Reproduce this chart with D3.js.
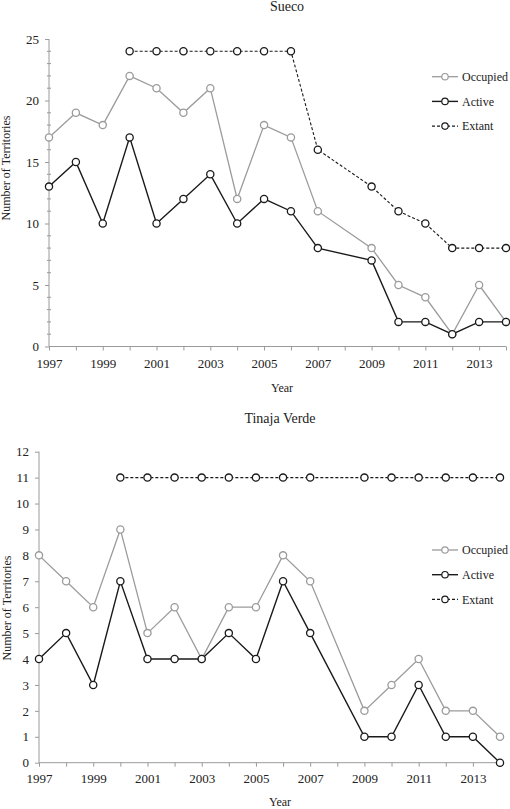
<!DOCTYPE html>
<html>
<head>
<meta charset="utf-8">
<script src="https://cdn.jsdelivr.net/npm/d3@7"></script>
<style>
  html, body { margin: 0; padding: 0; background: #fff; }
  svg { display: block; }
  text { font-family: "Liberation Serif", "Times New Roman", Times, serif; fill: #222; }
</style>
</head>
<body>
<svg id="chart" width="510" height="809"></svg>
<script>
// ---- Data ----
const years = [1997,1998,1999,2000,2001,2002,2003,2004,2005,2006,2007,2008,2009,2010,2011,2012,2013,2014];

const suecoOccupied = [17,19,18,22,21,19,21,12,18,17,11,null,8,5,4,1,5,2];
const suecoActive   = [13,15,10,17,10,12,14,10,12,11,8,null,7,2,2,1,2,2];
const suecoExtant   = [null,null,null,24,24,24,24,24,24,24,16,null,13,11,10,8,8,8];

const tinajaOccupied = [8,7,6,9,5,6,4,6,6,8,7,null,2,3,4,2,2,1];
const tinajaActive   = [4,5,3,7,4,4,4,5,4,7,5,null,1,1,3,1,1,0];
const tinajaExtant   = [null,null,null,11,11,11,11,11,11,11,11,null,11,11,11,11,11,11];

const xTickLabels = [1997,1999,2001,2003,2005,2007,2009,2011,2013];
const suecoYTicks = [0,5,10,15,20,25];
const tinajaYTicks = [0,1,2,3,4,5,6,7,8,9,10,11,12];
const legendLabels = ["Occupied","Active","Extant"];

const svg = d3.select("#chart");
const axisColor = "#9a9a9a";
const fontFam = '"Liberation Serif", "Times New Roman", Times, serif';
const styles = {
  Occupied: {color: "#9b9b9b", width: 1.3, dash: null},
  Active:   {color: "#1a1a1a", width: 1.4, dash: null},
  Extant:   {color: "#1a1a1a", width: 1.1, dash: "3,2"}
};

function drawPanel(cfg) {
  const g = svg.append("g");
  const x = d3.scaleLinear().domain([1997, 2014]).range([cfg.x0, cfg.x1]);
  const y = d3.scaleLinear().domain([0, cfg.yMax]).range([cfg.y0, cfg.y1]);

  // title
  g.append("text").attr("x", cfg.titleX).attr("y", cfg.titleY)
    .attr("text-anchor", "middle").style("font-size", "14px").text(cfg.title);

  // y axis
  const yAxis = d3.axisLeft(y).tickValues(cfg.yTicks).tickSize(4).tickPadding(6).tickFormat(d3.format("d"));
  const ya = g.append("g").attr("transform", `translate(${cfg.x0},0)`).call(yAxis);
  if (cfg.minor) {
    const minor = d3.range(0, cfg.yMax + 1).filter(v => !cfg.yTicks.includes(v));
    ya.selectAll("line.minor").data(minor).enter().append("line").attr("class", "minor")
      .attr("x1", -2).attr("x2", 2).attr("y1", d => y(d)).attr("y2", d => y(d));
  }
  ya.select(".domain").attr("d", `M0,${cfg.y0}V${cfg.y1}`);

  // x axis
  const xAxis = d3.axisBottom(x).tickValues(years).tickSize(4).tickPadding(cfg.xPad)
    .tickFormat(d => xTickLabels.includes(d) ? d : "");
  const xa = g.append("g").attr("transform", `translate(0,${cfg.y0})`).call(xAxis);
  xa.select(".domain").attr("d", `M${cfg.x0},0H${cfg.x1}`);

  [ya, xa].forEach(a => {
    a.attr("font-family", fontFam);
    a.selectAll("line, path").attr("stroke", axisColor).attr("stroke-width", 1);
    a.selectAll("text").style("font-size", "13px").style("font-family", fontFam).attr("fill", "#222");
  });

  // axis titles
  g.append("text").attr("transform", `translate(${cfg.ylabX},${cfg.ylabY}) rotate(-90)`)
    .attr("text-anchor", "middle").style("font-size", "12px").text("Number of Territories");
  g.append("text").attr("x", cfg.xlabX).attr("y", cfg.xlabY)
    .attr("text-anchor", "middle").style("font-size", "12px").text("Year");

  // series
  const series = [
    {name: "Occupied", vals: cfg.occupied},
    {name: "Active", vals: cfg.active},
    {name: "Extant", vals: cfg.extant}
  ];
  series.forEach(s => {
    const st = styles[s.name];
    const pts = years.map((yr, i) => ({yr, v: s.vals[i]})).filter(p => p.v !== null);
    const line = d3.line().x(p => x(p.yr)).y(p => y(p.v));
    g.append("path").datum(pts).attr("d", line).attr("fill", "none")
      .attr("stroke", st.color).attr("stroke-width", st.width)
      .attr("stroke-dasharray", st.dash);
    g.selectAll(null).data(pts).enter().append("circle")
      .attr("cx", p => x(p.yr)).attr("cy", p => y(p.v)).attr("r", 3.6)
      .attr("fill", "#fff").attr("stroke", st.color).attr("stroke-width", 1.3);
  });

  // legend
  legendLabels.forEach((lab, i) => {
    const st = styles[lab];
    const ly = cfg.legY + i * 24.7;
    g.append("line").attr("x1", 432).attr("x2", 458).attr("y1", ly).attr("y2", ly)
      .attr("stroke", st.color).attr("stroke-width", st.width).attr("stroke-dasharray", st.dash);
    g.append("circle").attr("cx", 445).attr("cy", ly).attr("r", 3.2)
      .attr("fill", "#fff").attr("stroke", st.color).attr("stroke-width", 1.2);
    g.append("text").attr("x", 462).attr("y", ly + 4.3).style("font-size", "12px").text(lab);
  });
}

drawPanel({
  title: "Sueco", titleX: 287, titleY: 11,
  x0: 49, x1: 506, y0: 346.5, y1: 39, yMax: 25, yTicks: suecoYTicks, minor: true, xPad: 8,
  ylabX: 10, ylabY: 168, xlabX: 282, xlabY: 392,
  occupied: suecoOccupied, active: suecoActive, extant: suecoExtant,
  legY: 76.7
});

drawPanel({
  title: "Tinaja Verde", titleX: 280, titleY: 423,
  x0: 39, x1: 500, y0: 762.7, y1: 451.7, yMax: 12, yTicks: tinajaYTicks, minor: false, xPad: 7,
  ylabX: 11, ylabY: 608, xlabX: 280, xlabY: 806,
  occupied: tinajaOccupied, active: tinajaActive, extant: tinajaExtant,
  legY: 550
});
</script>
</body>
</html>
